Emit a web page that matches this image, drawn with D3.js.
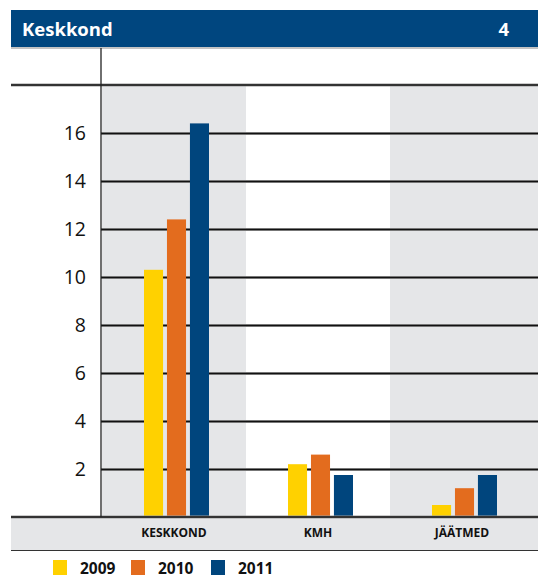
<!DOCTYPE html>
<html>
<head>
<meta charset="utf-8">
<script src="https://cdn.jsdelivr.net/npm/d3@7"></script>
<style>
  html, body { margin: 0; padding: 0; background: #fff; }
  svg { display: block; font-family: "Open Sans", "Noto Sans", sans-serif; }
</style>
</head>
<body>
<svg id="chart" width="538" height="578"></svg>
<script>
// Data
const categories = ["KESKKOND", "KMH", "JÄÄTMED"];
const years = ["2009", "2010", "2011"];
const values2009 = [10.3, 2.2, 0.5];
const values2010 = [12.4, 2.6, 1.2];
const values2011 = [16.4, 1.75, 1.75];
const yTicks = [2, 4, 6, 8, 10, 12, 14, 16];
const title = "Keskkond";
const pageNumber = "4";

const seriesValues = [values2009, values2010, values2011];
const colors = ["#FFD100", "#E36C1E", "#00457D"];
const bandGray = "#E5E6E8";
const headerBlue = "#00467F";

const W = 538;
const svg = d3.select("#chart");

// Header
svg.append("rect").attr("x", 11).attr("y", 10).attr("width", W - 11).attr("height", 37).attr("fill", headerBlue);
svg.append("text").attr("x", 22).attr("y", 36).attr("fill", "#fff")
  .attr("font-size", 18.5).attr("font-weight", 700).text(title);
svg.append("text").attr("x", 509).attr("y", 36).attr("fill", "#fff").attr("text-anchor", "end")
  .attr("font-size", 18.5).attr("font-weight", 700).text(pageNumber);

// Scales
const plotLeft = 102, plotTop = 85, plotBottom = 517;
const x0 = d3.scaleBand().domain(categories).range([plotLeft, plotLeft + 432]);
const x1 = d3.scaleBand().domain(years).range([42, 107]).paddingInner(0.17);
const y = d3.scaleLinear().domain([0, 18]).range([plotBottom, plotTop]);

// Alternating category bands
svg.selectAll("rect.band").data(categories).join("rect")
  .attr("class", "band")
  .attr("x", d => x0(d))
  .attr("y", y(18))
  .attr("width", (d, i) => i === categories.length - 1 ? W - x0(d) : x0.bandwidth())
  .attr("height", y(0) - y(18))
  .attr("fill", (d, i) => i % 2 === 0 ? bandGray : "#fff");

// Category label strip
svg.append("rect").attr("x", 11).attr("y", plotBottom).attr("width", W - 11).attr("height", 33).attr("fill", bandGray);
svg.append("line").attr("x1", 11).attr("x2", W).attr("y1", 550.5).attr("y2", 550.5)
  .attr("stroke", "#333").attr("stroke-width", 1.2);

// Gridlines (haloed)
const gridG = svg.append("g").attr("transform", `translate(${plotLeft - 1},0)`);
gridG.call(d3.axisRight(y).tickValues(yTicks).tickSize(W - plotLeft + 1).tickFormat(""))
  .call(g => g.select(".domain").remove());
gridG.selectAll(".tick line").clone(true).lower().attr("stroke", "#9a9a9a").attr("stroke-width", 3);
gridG.selectAll(".tick line").filter(function () { return this.getAttribute("stroke") !== "#9a9a9a"; })
  .attr("stroke", "#111").attr("stroke-width", 1.3);

// Top line, header underline
svg.append("line").attr("x1", 11).attr("x2", W).attr("y1", 48).attr("y2", 48)
  .attr("stroke", "#888").attr("stroke-width", 1);
svg.append("line").attr("x1", 11).attr("x2", W).attr("y1", plotTop).attr("y2", plotTop)
  .attr("stroke", "#9a9a9a").attr("stroke-width", 3);
svg.append("line").attr("x1", 11).attr("x2", W).attr("y1", plotTop).attr("y2", plotTop)
  .attr("stroke", "#111").attr("stroke-width", 1.3);

// Bars
const groups = svg.selectAll("g.cat").data(categories).join("g")
  .attr("class", "cat").attr("transform", d => `translate(${x0(d)},0)`);
groups.selectAll("rect").data((d, ci) => years.map((yr, si) => ({ yr, si, v: seriesValues[si][ci] })))
  .join("rect")
  .attr("x", d => x1(d.yr))
  .attr("y", d => y(d.v))
  .attr("width", x1.bandwidth())
  .attr("height", d => y(0) - y(d.v))
  .attr("fill", d => colors[d.si]);

// Baseline
svg.append("line").attr("x1", 11).attr("x2", W).attr("y1", plotBottom).attr("y2", plotBottom)
  .attr("stroke", "#9a9a9a").attr("stroke-width", 3);
svg.append("line").attr("x1", 11).attr("x2", W).attr("y1", plotBottom).attr("y2", plotBottom)
  .attr("stroke", "#111").attr("stroke-width", 1.3);

// Y axis
const yAxisG = svg.append("g").attr("transform", `translate(${plotLeft - 1},0)`);
yAxisG.call(d3.axisLeft(y).tickValues(yTicks).tickSize(0).tickPadding(15))
  .call(g => g.select(".domain").remove());
yAxisG.selectAll(".tick text").attr("font-size", 19.5).attr("fill", "#111")
  .attr("font-family", "'Open Sans', sans-serif");
svg.append("line").attr("x1", plotLeft - 1).attr("x2", plotLeft - 1).attr("y1", 48).attr("y2", plotBottom)
  .attr("stroke", "#222").attr("stroke-width", 1.3);

// Category labels
const xAxisG = svg.append("g").attr("transform", `translate(0,${plotBottom})`);
xAxisG.call(d3.axisBottom(x0).tickSize(0).tickPadding(11))
  .call(g => g.select(".domain").remove());
xAxisG.selectAll(".tick text").attr("font-size", 12).attr("font-weight", 700).attr("fill", "#111")
  .attr("font-family", "'Open Sans', sans-serif");

// Legend
const legendX = [53, 131, 211];
const legend = svg.selectAll("g.legend").data(years).join("g")
  .attr("class", "legend").attr("transform", (d, i) => `translate(${legendX[i]},560)`);
legend.append("rect").attr("width", 14).attr("height", 15).attr("fill", (d, i) => colors[i]);
legend.append("text").attr("x", 27).attr("y", 13.5).attr("font-size", 15.5).attr("font-weight", 700)
  .attr("fill", "#111").text(d => d);
</script>
</body>
</html>
